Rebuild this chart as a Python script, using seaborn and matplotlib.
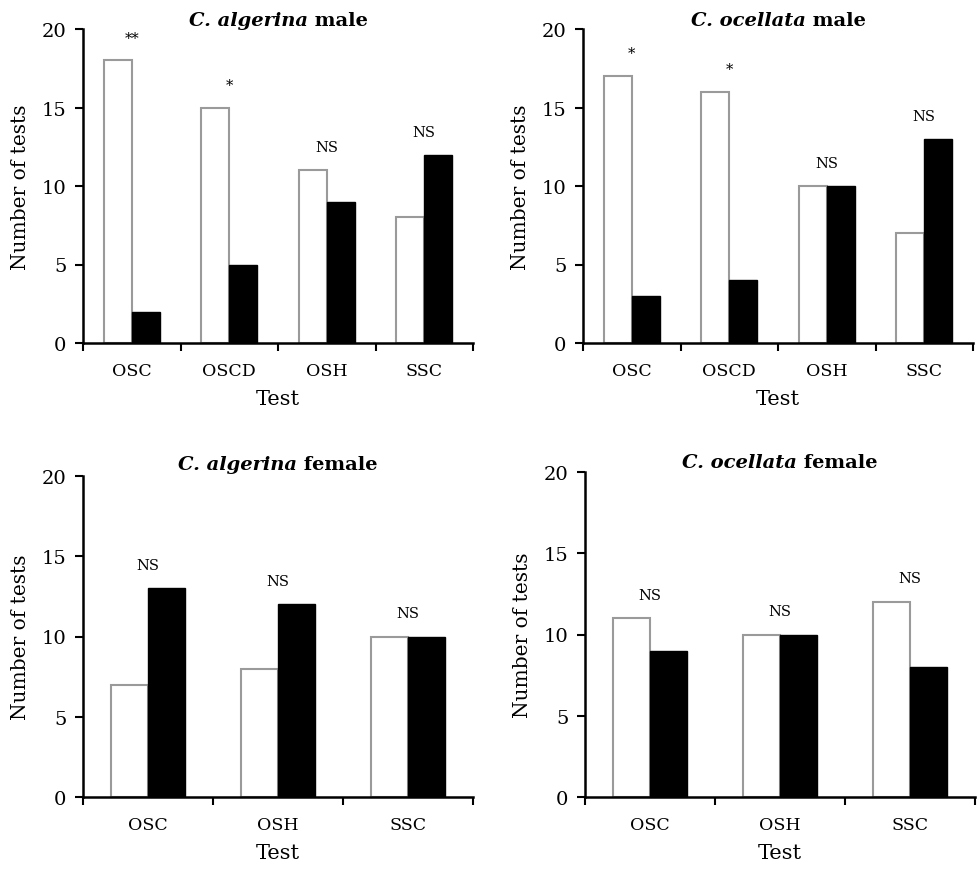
import matplotlib
matplotlib.use("Agg")
import matplotlib.pyplot as plt
import seaborn as sns
import pandas as pd
from matplotlib.ticker import FixedLocator

# ---- data ----
male_tests = ["OSC", "OSCD", "OSH", "SSC"]
female_tests = ["OSC", "OSH", "SSC"]

alg_male_white = [18, 15, 11, 8]
alg_male_black = [2, 5, 9, 12]
alg_male_sig = ["**", "*", "NS", "NS"]

oce_male_white = [17, 16, 10, 7]
oce_male_black = [3, 4, 10, 13]
oce_male_sig = ["*", "*", "NS", "NS"]

alg_female_white = [7, 8, 10]
alg_female_black = [13, 12, 10]
alg_female_sig = ["NS", "NS", "NS"]

oce_female_white = [11, 10, 12]
oce_female_black = [9, 10, 8]
oce_female_sig = ["NS", "NS", "NS"]

species = ["C. algerina", "C. ocellata", "C. algerina", "C. ocellata"]
sexes = [" male", " male", " female", " female"]
y_ticks = [0, 5, 10, 15, 20]

sns.set_theme(style="ticks")
plt.rcParams["font.family"] = ["DejaVu Serif"]
plt.rcParams["text.color"] = "black"
plt.rcParams["axes.labelcolor"] = "black"
plt.rcParams["xtick.color"] = "black"
plt.rcParams["ytick.color"] = "black"

fig = plt.figure(figsize=(9.8, 8.7), dpi=100)
positions = [
    [83/980, 1-344/870, 390/980, 314/870],
    [583/980, 1-344/870, 390/980, 314/870],
    [83/980, 1-798/870, 390/980, 321/870],
    [585/980, 1-798/870, 390/980, 325/870],
]
panels = [
    (male_tests, alg_male_white, alg_male_black, alg_male_sig),
    (male_tests, oce_male_white, oce_male_black, oce_male_sig),
    (female_tests, alg_female_white, alg_female_black, alg_female_sig),
    (female_tests, oce_female_white, oce_female_black, oce_female_sig),
]

axes = []
for i, (tests, w, b, sig) in enumerate(panels):
    ax = fig.add_axes(positions[i])
    axes.append(ax)
    df = pd.DataFrame({
        "Test": tests * 2,
        "Choice": ["first"] * len(tests) + ["second"] * len(tests),
        "Count": list(w) + list(b),
    })
    sns.barplot(data=df, x="Test", y="Count", hue="Choice", order=tests,
                hue_order=["first", "second"],
                palette={"first": "white", "second": "black"},
                width=0.575, legend=False, ax=ax, errorbar=None)
    for bar in ax.containers[0]:
        bar.set_edgecolor("#9a9a9a")
        bar.set_linewidth(1.5)
    for bar in ax.containers[1]:
        bar.set_edgecolor("black")
        bar.set_linewidth(1.0)
    n = len(tests)
    ax.set_xlim(-0.5, n - 0.5)
    ax.set_ylim(0, 20)
    ax.set_yticks(y_ticks)
    ax.xaxis.set_minor_locator(FixedLocator([k - 0.5 for k in range(n + 1)]))
    ax.tick_params(axis="x", which="major", length=0, pad=14, labelsize=12.5, colors="black")
    ax.tick_params(axis="x", which="minor", length=6, width=1.5, direction="out", color="black")
    ax.tick_params(axis="y", length=6, width=1.5, direction="out", pad=6, labelsize=14, colors="black")
    for s in ["top", "right"]:
        ax.spines[s].set_visible(False)
    for s in ["left", "bottom"]:
        ax.spines[s].set_linewidth(1.8)
        ax.spines[s].set_color("black")
    ax.set_xlabel("Test", fontsize=15, labelpad=7, color="black")
    ax.set_ylabel("Number of tests", fontsize=14.5, labelpad=8, color="black")
    for k, t in enumerate(sig):
        top = max(w[k], b[k])
        ax.text(k, top + 1.2, t, ha="center", va="baseline", fontsize=10.5, color="black")

fig.canvas.draw()
renderer = fig.canvas.get_renderer()
title_offsets = [4, 4, 7, 5]
for i, ax in enumerate(axes):
    bbox = ax.get_position()
    ytop = bbox.y1 + title_offsets[i] / 870
    t1 = fig.text(0, ytop, species[i], fontsize=14, fontweight="bold",
                  fontstyle="italic", va="baseline", ha="left", color="black")
    t2 = fig.text(0, ytop, sexes[i], fontsize=14, fontweight="bold",
                  va="baseline", ha="left", color="black")
    w1 = t1.get_window_extent(renderer).width / 980
    w2 = t2.get_window_extent(renderer).width / 980
    cx = (bbox.x0 + bbox.x1) / 2
    x0 = cx - (w1 + w2) / 2
    t1.set_x(x0)
    t2.set_x(x0 + w1)

fig.savefig("out.png", dpi=100)
